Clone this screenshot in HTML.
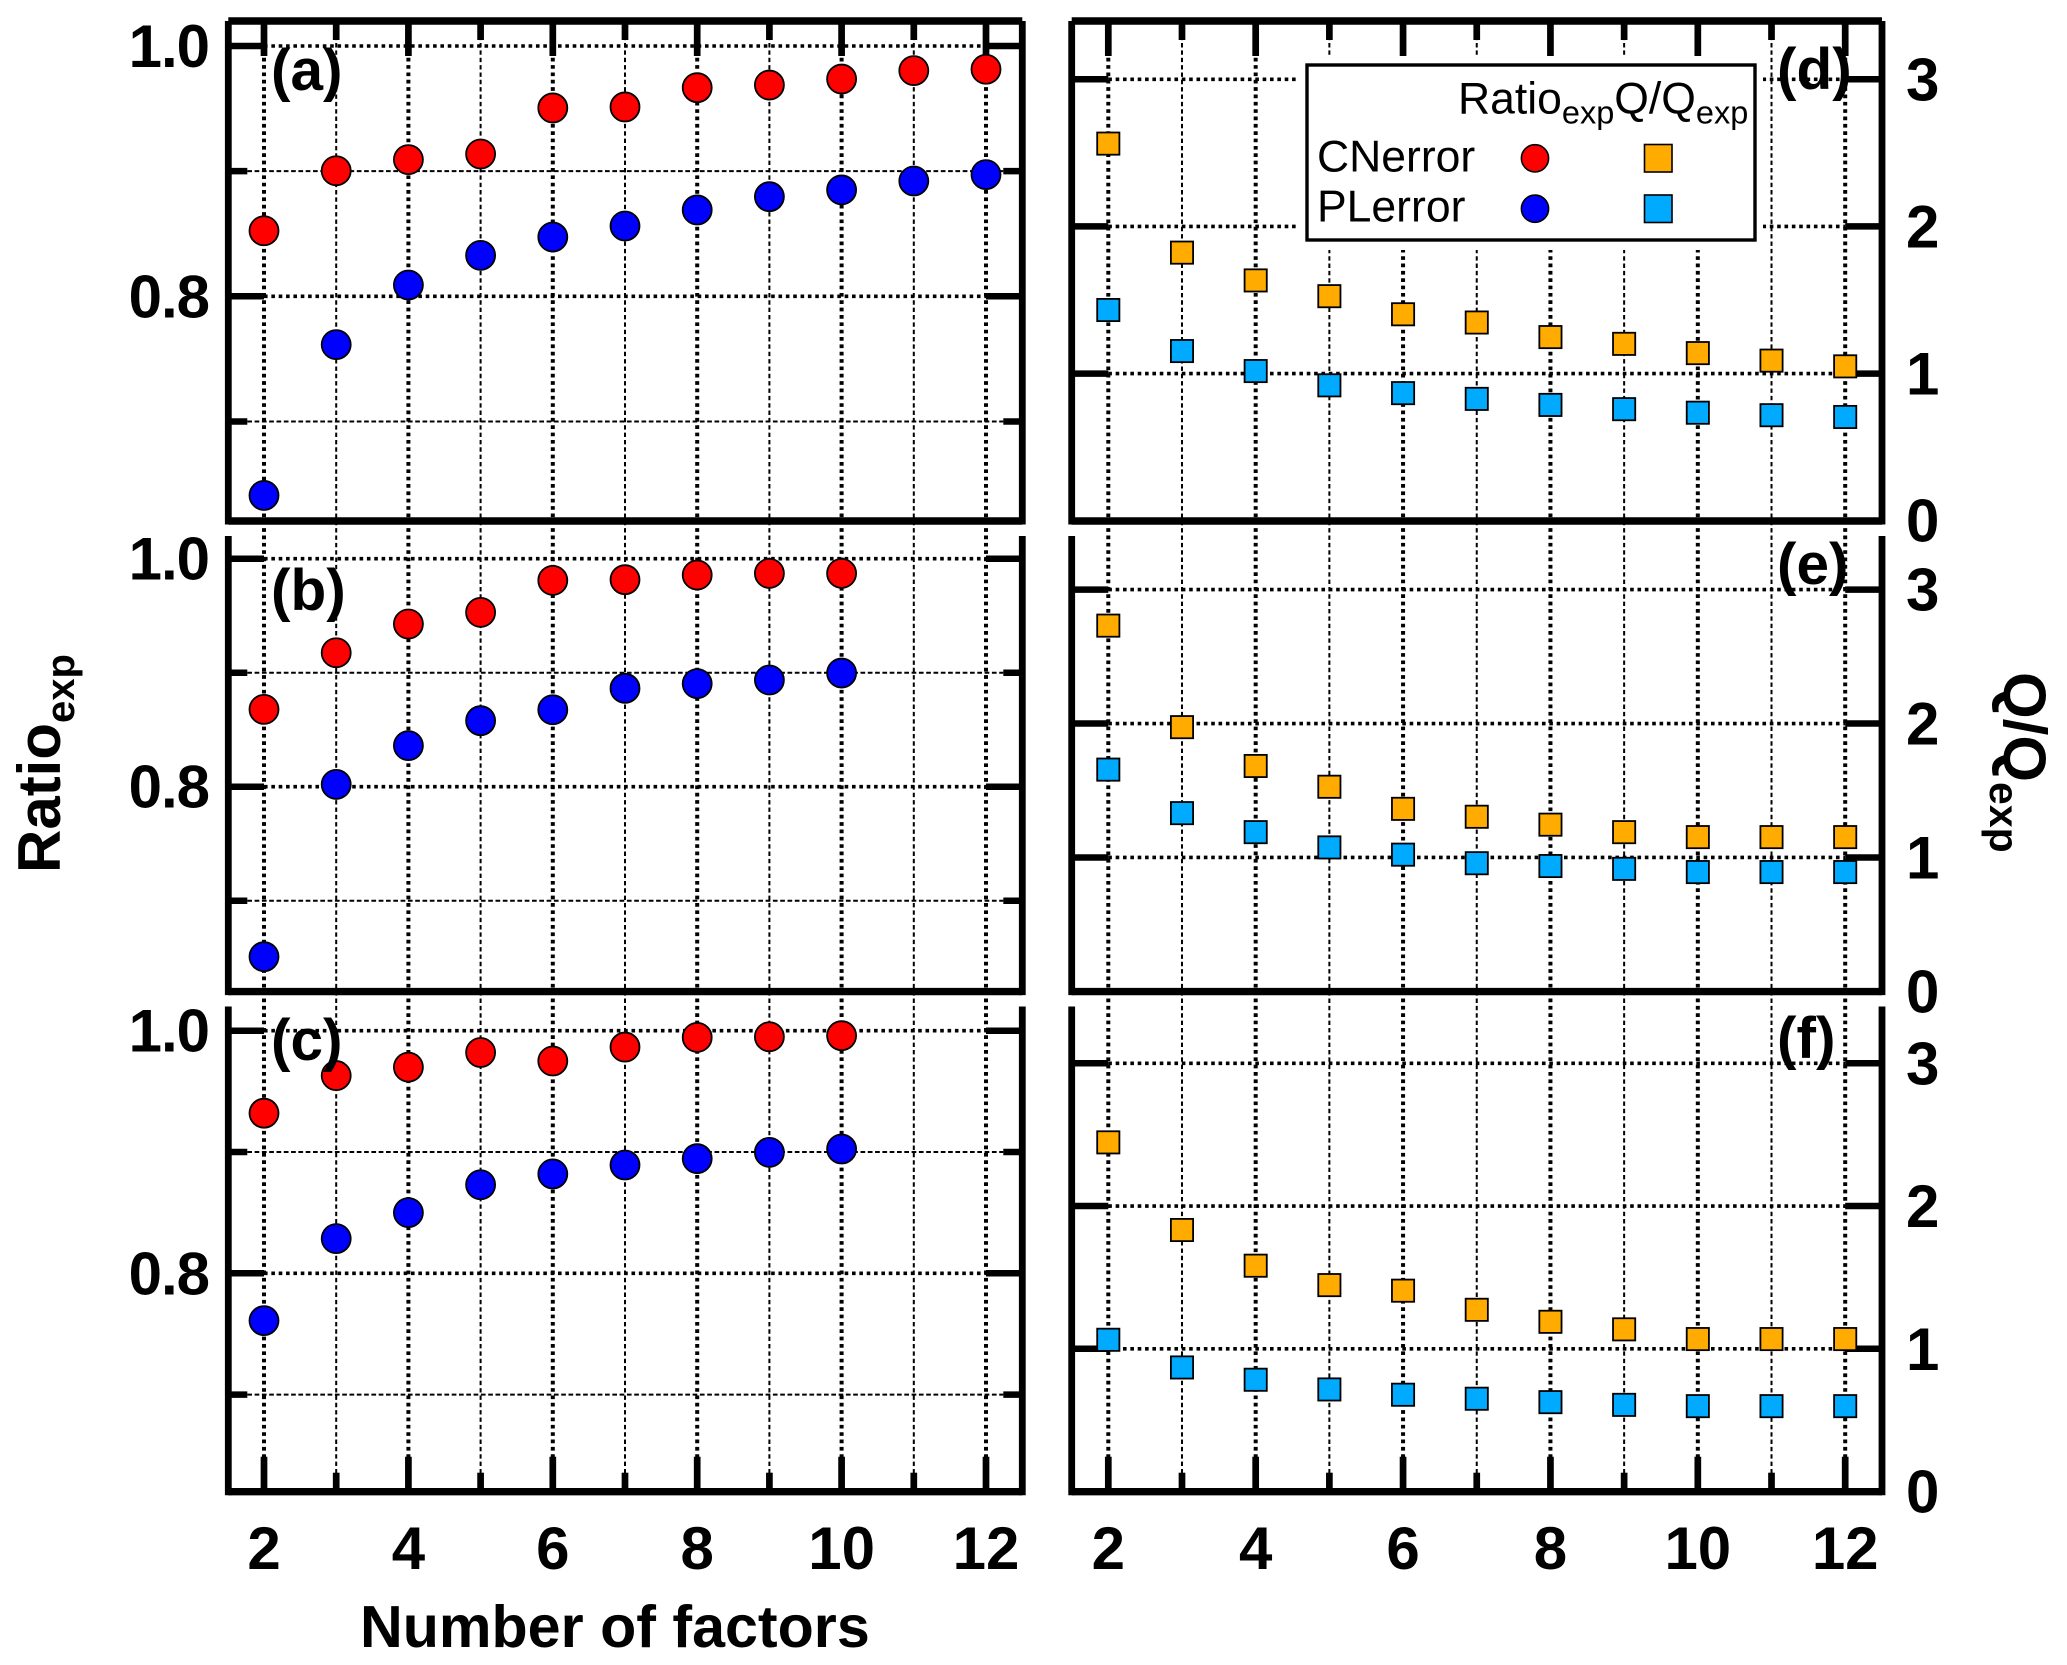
<!DOCTYPE html>
<html lang="en">
<head>
<meta charset="utf-8">
<title>Ratio and Q/Q by number of factors</title>
<style>
  html, body { margin: 0; padding: 0; background: #fff; }
  svg { display: block; font-family: "Liberation Sans", sans-serif; }
  .bold { font-weight: 700; font-size: 60px; fill: #000; }
  .tick-y { letter-spacing: -1px; }
  .panel-tag { font-weight: 700; font-size: 58.5px; fill: #000; }
  .legend-text { font-size: 44.5px; fill: #000; }
</style>
</head>
<body>
<svg id="chart" xmlns="http://www.w3.org/2000/svg" width="2067" height="1665" viewBox="0 0 2067 1665">
  <rect x="0" y="0" width="2067" height="1665" fill="#fff"/>
  <g id="grid-layer"></g>
  <g id="axes-layer"></g>
  <g id="marks-layer"></g>
  <g id="labels-layer"></g>

  <text class="bold" x="360" y="1647" style="font-size:59.2px">Number of factors</text>
  <text class="bold" transform="rotate(-90 60 873)" x="60" y="873">Ratio<tspan font-size="40" dy="14">exp</tspan></text>
  <text class="bold" transform="rotate(90 2004 672)" x="2004" y="672">Q/Q<tspan font-size="41" dy="14">exp</tspan></text>

  <g>
    <rect x="1299" y="56" width="464" height="194" fill="#fff"/>
    <rect x="1307" y="65" width="448" height="175" fill="#fff" stroke="#000" stroke-width="3.4"/>
    <text class="legend-text" x="1458" y="113.5">Ratio<tspan font-size="32.5" dy="10">exp</tspan><tspan dy="-10">Q/Q</tspan><tspan font-size="32.5" dy="10">exp</tspan></text>
    <text class="legend-text" x="1317" y="171.7">CNerror</text>
    <text class="legend-text" x="1317" y="221.7">PLerror</text>
    <circle cx="1535" cy="158.3" r="13.6" fill="#ff0000" stroke="#000" stroke-width="1.6"/>
    <circle cx="1535" cy="208.7" r="13.6" fill="#0000ff" stroke="#000" stroke-width="1.6"/>
    <rect x="1644.5" y="144.5" width="27.5" height="27.5" fill="#ffab00" stroke="#000" stroke-width="1.6"/>
    <rect x="1644.5" y="195" width="27.5" height="27.5" fill="#00aaff" stroke="#000" stroke-width="1.6"/>
  </g>
</svg>

<script>
// ---- chart data ----
const xTickValues = [2, 3, 4, 5, 6, 7, 8, 9, 10, 11, 12];
const xTickLabels = ['2', '4', '6', '8', '10', '12'];
const ratioMajorTicks = [1.0, 0.8];
const ratioMinorTicks = [0.9, 0.7];
const ratioTickLabels = ['1.0', '0.8'];
const qMajorTicks = [3, 2, 1];
const qTickLabels = ['3', '2', '1', '0'];
const qLabelValues = [3, 2, 1, 0];

const factorsLong = [2, 3, 4, 5, 6, 7, 8, 9, 10, 11, 12];
const factorsShort = [2, 3, 4, 5, 6, 7, 8, 9, 10];

const panelARed = [0.8524, 0.9003, 0.9092, 0.9137, 0.9505, 0.9513, 0.9667, 0.9688, 0.9736, 0.9803, 0.9814];
const panelABlue = [0.6409, 0.7614, 0.8090, 0.8327, 0.8474, 0.8562, 0.8690, 0.8796, 0.8850, 0.8921, 0.8972];
const panelBRed = [0.8678, 0.9175, 0.9427, 0.9529, 0.9810, 0.9816, 0.9857, 0.9871, 0.9871];
const panelBBlue = [0.6509, 0.8020, 0.8360, 0.8579, 0.8675, 0.8863, 0.8904, 0.8936, 0.8997];
const panelCRed = [0.9320, 0.9630, 0.9700, 0.9820, 0.9750, 0.9865, 0.9945, 0.9950, 0.9959];
const panelCBlue = [0.7610, 0.8286, 0.8500, 0.8730, 0.8819, 0.8893, 0.8945, 0.8997, 0.9025];

const panelDOrange = [2.563, 1.822, 1.633, 1.526, 1.403, 1.347, 1.248, 1.202, 1.139, 1.088, 1.049];
const panelDCyan = [1.432, 1.153, 1.017, 0.920, 0.867, 0.828, 0.787, 0.758, 0.734, 0.717, 0.705];
const panelEOrange = [2.731, 1.973, 1.683, 1.528, 1.363, 1.304, 1.245, 1.189, 1.152, 1.152, 1.152];
const panelECyan = [1.656, 1.331, 1.189, 1.075, 1.021, 0.957, 0.936, 0.915, 0.891, 0.891, 0.891];
const panelFOrange = [2.446, 1.832, 1.582, 1.446, 1.407, 1.273, 1.189, 1.136, 1.068, 1.068, 1.068];
const panelFCyan = [1.063, 0.869, 0.783, 0.715, 0.678, 0.650, 0.626, 0.607, 0.598, 0.598, 0.598];

// ---- helpers ----
const SVG_NS = 'http://www.w3.org/2000/svg';
const gridLayer = document.getElementById('grid-layer');
const axesLayer = document.getElementById('axes-layer');
const marksLayer = document.getElementById('marks-layer');
const labelsLayer = document.getElementById('labels-layer');

function linearScale(v0, p0, v1, p1) {
  return function (v) { return p0 + (v - v0) * (p1 - p0) / (v1 - v0); };
}
function lineEl(x1, y1, x2, y2, width, dash) {
  const el = document.createElementNS(SVG_NS, 'line');
  el.setAttribute('x1', x1);
  el.setAttribute('y1', y1);
  el.setAttribute('x2', x2);
  el.setAttribute('y2', y2);
  el.setAttribute('stroke', '#000');
  el.setAttribute('stroke-width', width);
  if (dash) el.setAttribute('stroke-dasharray', dash);
  return el;
}
function textEl(str, x, y, cls, anchor) {
  const el = document.createElementNS(SVG_NS, 'text');
  el.setAttribute('x', x);
  el.setAttribute('y', y);
  el.setAttribute('class', cls);
  if (anchor) el.setAttribute('text-anchor', anchor);
  el.textContent = str;
  return el;
}

const DASH_V_MAJOR = '3.7 3.65';
const DASH_V_MINOR = '4.4 2.95';
const DASH_H_MAJOR = '3.6 3.75';
const DASH_H_MINOR = '4.7 2.6';

// axis X scales for left and right columns
const xLeft = linearScale(2, 264, 12, 986);
const xRight = linearScale(2, 1108.3, 12, 1845.2);

function drawVerticalGrid(xs, name) {
  xTickValues.forEach(function (f) {
    const major = f % 2 === 0;
    const el = lineEl(xs(f), 21, xs(f), 1492, major ? 4 : 2, major ? DASH_V_MAJOR : DASH_V_MINOR);
    
    
    gridLayer.appendChild(el);
  });
}

function drawColumnXTicks(xs, name, edgeY, dir) {
  xTickValues.forEach(function (f) {
    const major = f % 2 === 0;
    const len = major ? 35 : 19;
    const el = lineEl(xs(f), edgeY, xs(f), edgeY + dir * len, 6.7);
    
    
    axesLayer.appendChild(el);
  });
}

function drawFrame(name, left, right, top, bottom, hasTop) {
  const lAxis = lineEl(left, top, left, bottom + 3.5, 6.8);
  
  
  axesLayer.appendChild(lAxis);

  const rAxis = lineEl(right, top, right, bottom + 3.5, 6.8);
  
  
  axesLayer.appendChild(rAxis);

  const bAxis = lineEl(left, bottom, right, bottom, 7.4);
  
  
  axesLayer.appendChild(bAxis);

  if (hasTop) {
    const tAxis = lineEl(left, top, right, top, 7.4);
    
    
    axesLayer.appendChild(tAxis);
  }
}

function drawHorizontal(name, y, value, major, left, right, xStart, xEnd) {
  const innerL = major ? xStart : left + 19;
  const innerR = major ? xEnd : right - 19;
  const grid = lineEl(innerL, y(value), innerR, y(value), major ? 3.6 : 2, major ? DASH_H_MAJOR : DASH_H_MINOR);
  
  
  gridLayer.appendChild(grid);

  const t1 = lineEl(left, y(value), innerL, y(value), 6.5);
  
  
  axesLayer.appendChild(t1);

  const t2 = lineEl(innerR, y(value), right, y(value), 6.5);
  
  
  axesLayer.appendChild(t2);
}

function drawCircles(name, xs, y, factors, values, color) {
  factors.forEach(function (f, i) {
    const c = document.createElementNS(SVG_NS, 'circle');
    c.setAttribute('cx', xs(f));
    c.setAttribute('cy', y(values[i]));
    c.setAttribute('r', 14.5);
    c.setAttribute('fill', color);
    c.setAttribute('stroke', '#000');
    c.setAttribute('stroke-width', 1.8);
    
    
    marksLayer.appendChild(c);
  });
}

function drawSquares(name, xs, y, factors, values, color) {
  factors.forEach(function (f, i) {
    const s = 22.2;
    const r = document.createElementNS(SVG_NS, 'rect');
    r.setAttribute('x', xs(f) - s / 2);
    r.setAttribute('y', y(values[i]) - s / 2);
    r.setAttribute('width', s);
    r.setAttribute('height', s);
    r.setAttribute('fill', color);
    r.setAttribute('stroke', '#000');
    r.setAttribute('stroke-width', 1.8);
    
    
    marksLayer.appendChild(r);
  });
}

function drawRatioPanel(tag, top, bottom, hasTop, y, reds, blues, factors, tagY) {
  const name = 'panel-' + tag;
  drawFrame(name, 228.3, 1022.3, top, bottom, hasTop);
  ratioMajorTicks.forEach(function (v) { drawHorizontal(name, y, v, true, 228.3, 1022.3, xLeft(2), xLeft(12)); });
  ratioMinorTicks.forEach(function (v) { drawHorizontal(name, y, v, false, 228.3, 1022.3, xLeft(2), xLeft(12)); });
  drawCircles(name + '-cnerror-ratio', xLeft, y, factors, reds, '#ff0000');
  drawCircles(name + '-plerror-ratio', xLeft, y, factors, blues, '#0000ff');
  ratioMajorTicks.forEach(function (v, i) {
    const t = textEl(ratioTickLabels[i], 209, y(v) + 21, 'bold tick-y', 'end');
    
    
    labelsLayer.appendChild(t);
  });
  const pt = textEl('(' + tag + ')', 271, tagY, 'panel-tag');
  
  
  labelsLayer.appendChild(pt);
}

function drawQPanel(tag, top, bottom, hasTop, y, oranges, cyans, tagY) {
  const name = 'panel-' + tag;
  drawFrame(name, 1071.7, 1882, top, bottom, hasTop);
  qMajorTicks.forEach(function (v) { drawHorizontal(name, y, v, true, 1071.7, 1882, xRight(2), xRight(12)); });
  drawSquares(name + '-cnerror-q', xRight, y, factorsLong, oranges, '#ffab00');
  drawSquares(name + '-plerror-q', xRight, y, factorsLong, cyans, '#00aaff');
  qLabelValues.forEach(function (v, i) {
    const t = textEl(qTickLabels[i], 1906, y(v) + 21, 'bold tick-y');
    
    
    labelsLayer.appendChild(t);
  });
  const pt = textEl('(' + tag + ')', 1777, tagY, 'panel-tag');
  
  
  labelsLayer.appendChild(pt);
}

// ---- build ----
drawVerticalGrid(xLeft, 'ratio-column');
drawVerticalGrid(xRight, 'q-column');

drawRatioPanel('a', 21, 521, true, linearScale(1.0, 46, 0.8, 296.3), panelARed, panelABlue, factorsLong, 90);
drawRatioPanel('b', 536, 991.6, false, linearScale(1.0, 558.7, 0.8, 786.7), panelBRed, panelBBlue, factorsShort, 610);
drawRatioPanel('c', 1006.5, 1491.7, false, linearScale(1.0, 1030.7, 0.8, 1273.3), panelCRed, panelCBlue, factorsShort, 1060);

drawQPanel('d', 21, 521, true, linearScale(0, 520.7, 3, 79.3), panelDOrange, panelDCyan, 89);
drawQPanel('e', 536, 991.6, false, linearScale(0, 991.4, 3, 589.6), panelEOrange, panelECyan, 584);
drawQPanel('f', 1006.5, 1491.7, false, linearScale(0, 1491.5, 3, 1063.3), panelFOrange, panelFCyan, 1058);

drawColumnXTicks(xLeft, 'panel-a', 21, 1);
drawColumnXTicks(xRight, 'panel-d', 21, 1);
drawColumnXTicks(xLeft, 'panel-c', 1491.7, -1);
drawColumnXTicks(xRight, 'panel-f', 1491.7, -1);

xTickLabels.forEach(function (label) {
  const a = textEl(label, xLeft(Number(label)), 1569, 'bold', 'middle');
  
  
  labelsLayer.appendChild(a);
  const b = textEl(label, xRight(Number(label)), 1569, 'bold', 'middle');
  
  
  labelsLayer.appendChild(b);
});
</script>
</body>
</html>
